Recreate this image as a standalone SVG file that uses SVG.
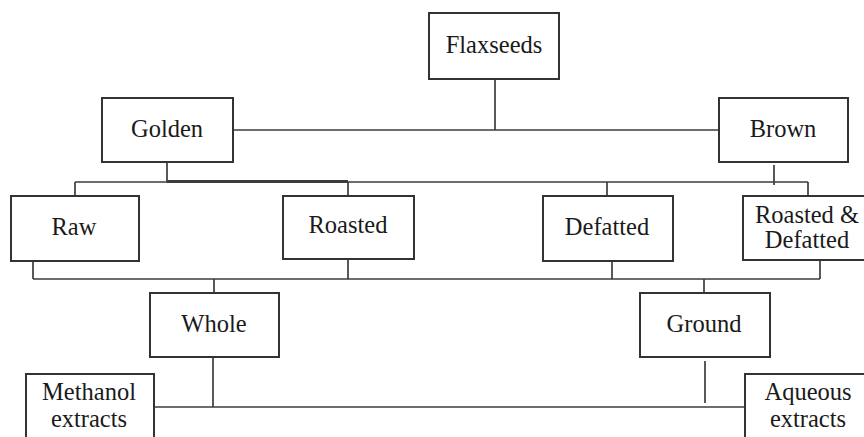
<svg xmlns="http://www.w3.org/2000/svg" width="864" height="437" viewBox="0 0 864 437">
<style>
.box{fill:#fff;stroke:#333;stroke-width:2}
.lbl{font-size:24.5px;fill:#1a1a1a;text-anchor:middle}
.con line{stroke:#3c3c3c;stroke-width:1.7;fill:none}
</style>
<rect width="864" height="437" fill="#fff"/>
<g id="connectors" class="con">
<line x1="495" y1="79" x2="495" y2="130"/>
<line x1="233" y1="130" x2="719" y2="130"/>
<line x1="167" y1="162" x2="167" y2="182"/>
<line x1="774" y1="165" x2="774" y2="185"/>
<line x1="75" y1="182" x2="808" y2="182"/>
<line x1="167" y1="181.5" x2="348" y2="181.5" style="stroke-width:3"/>
<line x1="75" y1="182" x2="75" y2="196"/>
<line x1="348" y1="182" x2="348" y2="196"/>
<line x1="607" y1="182" x2="607" y2="196"/>
<line x1="808" y1="182" x2="808" y2="196"/>
<line x1="33" y1="257" x2="33" y2="279"/>
<line x1="348" y1="259" x2="348" y2="279"/>
<line x1="612" y1="254" x2="612" y2="279"/>
<line x1="820" y1="260" x2="820" y2="279"/>
<line x1="33" y1="279" x2="820" y2="279"/>
<line x1="214" y1="279" x2="214" y2="293"/>
<line x1="704" y1="279" x2="704" y2="293"/>
<line x1="213" y1="357" x2="213" y2="407"/>
<line x1="705" y1="361" x2="705" y2="403"/>
<line x1="154" y1="407" x2="745" y2="407"/>
</g>
<g font-family="Liberation Serif, Times New Roman, serif">
<g id="flaxseeds"><rect class="box" x="429" y="13" width="130" height="66"/><text class="lbl" x="494" y="53">Flaxseeds</text></g>
<g id="golden"><rect class="box" x="102" y="98" width="131" height="64"/><text class="lbl" x="167" y="137">Golden</text></g>
<g id="brown"><rect class="box" x="719" y="98" width="129" height="64"/><text class="lbl" x="783" y="137">Brown</text></g>
<g id="raw"><rect class="box" x="11" y="196" width="128" height="65"/><text class="lbl" x="74" y="235">Raw</text></g>
<g id="roasted"><rect class="box" x="283" y="196" width="131" height="63"/><text class="lbl" x="348" y="233">Roasted</text></g>
<g id="defatted"><rect class="box" x="543" y="196" width="130" height="65"/><text class="lbl" x="607" y="235">Defatted</text></g>
<g id="roasted-defatted"><rect class="box" x="743" y="196" width="130" height="64"/><text class="lbl" x="807" y="223">Roasted &amp;</text><text class="lbl" x="807" y="248">Defatted</text></g>
<g id="whole"><rect class="box" x="150" y="293" width="129" height="64"/><text class="lbl" x="214" y="332">Whole</text></g>
<g id="ground"><rect class="box" x="640" y="293" width="130" height="64"/><text class="lbl" x="704" y="332">Ground</text></g>
<g id="methanol"><rect class="box" x="26" y="374" width="128" height="66"/><text class="lbl" x="89" y="400">Methanol</text><text class="lbl" x="89" y="427">extracts</text></g>
<g id="aqueous"><rect class="box" x="745" y="374" width="128" height="66"/><text class="lbl" x="808" y="400">Aqueous</text><text class="lbl" x="808" y="427">extracts</text></g>
</g>
</svg>
